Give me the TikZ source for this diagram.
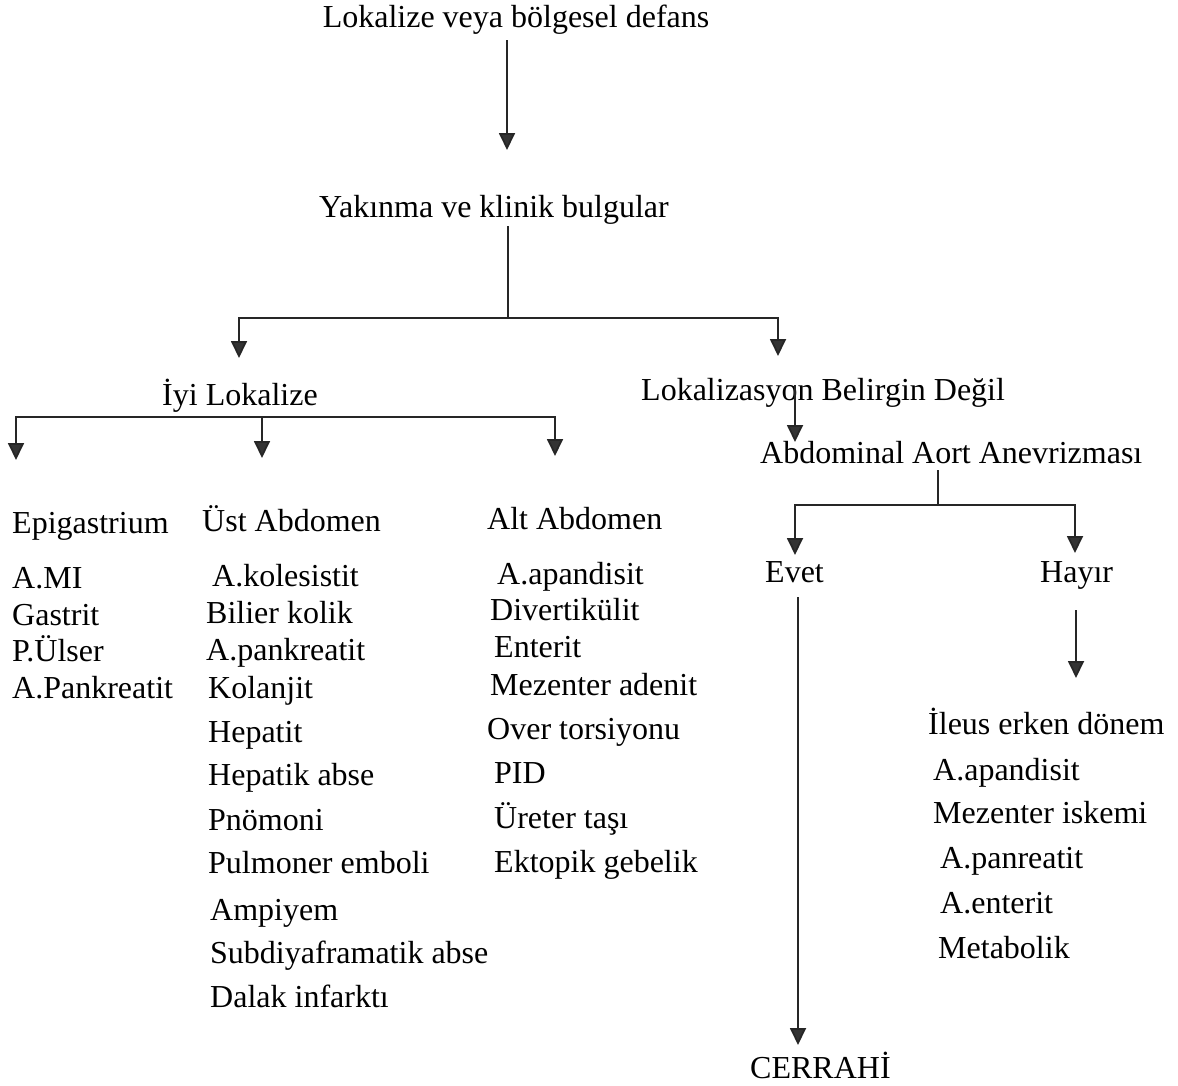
\documentclass[tikz,border=0pt]{standalone}
\usepackage{fontspec}
\setmainfont{Liberation Serif}
\usetikzlibrary{arrows.meta}
\begin{document}
\begin{tikzpicture}[x=1pt,y=-1pt,
  t/.style={font=\fontsize{32}{38}\selectfont, inner sep=0pt, anchor=base west, text=black},
  ln/.style={line width=1.8pt, draw=black!85},
  ar/.style={ln, -{Triangle[width=16pt,length=17pt,fill=black!80]}}]
\useasboundingbox[fill=white] (0,0) rectangle (1178,1085);

% main nodes
\node[t,anchor=base] (top) at (516,27) {Lokalize veya bölgesel defans};
\node[t,anchor=base] (yak) at (494,217) {Yakınma ve klinik bulgular};
\node[t] (iyi) at (162,405) {İyi Lokalize};
\node[t] (lok) at (641,400) {Lokalizasyon Belirgin Değil};
\node[t] (aaa) at (760,463) {Abdominal Aort Anevrizması};
\node[t] (evet) at (765,582) {Evet};
\node[t] (hayir) at (1040,582) {Hayır};
\node[t] (cer) at (750,1078) {CERRAHİ};

% Epigastrium column
\node[t] (epi) at (12,533) {Epigastrium};
\node[t] (e1) at (12,588) {A.MI};
\node[t] (e2) at (12,625) {Gastrit};
\node[t] (e3) at (12,661) {P.Ülser};
\node[t] (e4) at (12,698) {A.Pankreatit};

% Ust Abdomen column
\node[t] (ust) at (202,531) {Üst Abdomen};
\node[t] (u1) at (212,586) {A.kolesistit};
\node[t] (u2) at (206,623) {Bilier kolik};
\node[t] (u3) at (206,660) {A.pankreatit};
\node[t] (u4) at (208,698) {Kolanjit};
\node[t] (u5) at (208,742) {Hepatit};
\node[t] (u6) at (208,785) {Hepatik abse};
\node[t] (u7) at (208,830) {Pnömoni};
\node[t] (u8) at (208,873) {Pulmoner emboli};
\node[t] (u9) at (210,920) {Ampiyem};
\node[t] (u10) at (210,963) {Subdiyaframatik abse};
\node[t] (u11) at (210,1007) {Dalak infarktı};

% Alt Abdomen column
\node[t] (alt) at (487,529) {Alt Abdomen};
\node[t] (a1) at (497,584) {A.apandisit};
\node[t] (a2) at (490,620) {Divertikülit};
\node[t] (a3) at (494,657) {Enterit};
\node[t] (a4) at (490,695) {Mezenter adenit};
\node[t] (a5) at (487,739) {Over torsiyonu};
\node[t] (a6) at (494,783) {PID};
\node[t] (a7) at (494,828) {Üreter taşı};
\node[t] (a8) at (494,872) {Ektopik gebelik};

% Hayir column
\node[t] (h1) at (928,734) {İleus erken dönem};
\node[t] (h2) at (933,780) {A.apandisit};
\node[t] (h3) at (933,823) {Mezenter iskemi};
\node[t] (h4) at (940,868) {A.panreatit};
\node[t] (h5) at (940,913) {A.enterit};
\node[t] (h6) at (938,958) {Metabolik};

% coordinates
\coordinate (p1a) at (507,40);
\coordinate (p1b) at (507,150);
\coordinate (p2a) at (508,226);
\coordinate (p2b) at (508,318);
\coordinate (p2l) at (239,318);
\coordinate (p2r) at (778,318);
\coordinate (p2le) at (239,358);
\coordinate (p2re) at (778,356);
\coordinate (p3l) at (16,417);
\coordinate (p3m) at (262,417);
\coordinate (p3r) at (555,417);
\coordinate (p3le) at (16,460);
\coordinate (p3me) at (262,458);
\coordinate (p3re) at (555,456);
\coordinate (p4a) at (795,385);
\coordinate (p4b) at (795,442);
\coordinate (p5a) at (938,470);
\coordinate (p5b) at (938,505);
\coordinate (p5l) at (795,505);
\coordinate (p5r) at (1075,505);
\coordinate (p5le) at (795,555);
\coordinate (p5re) at (1075,553);
\coordinate (p6a) at (798,597);
\coordinate (p6b) at (798,1045);
\coordinate (p7a) at (1076,610);
\coordinate (p7b) at (1076,678);

% connectors
\draw[ar] (p1a) -- (p1b);
\draw[ln] (p2a) -- (p2b);
\draw[ar] (p2b) -- (p2l) -- (p2le);
\draw[ar] (p2b) -- (p2r) -- (p2re);
\draw[ar] (p3m) -- (p3l) -- (p3le);
\draw[ar] (p3m) -- (p3r) -- (p3re);
\draw[ar] (p3m) -- (p3me);
\draw[ar] (p4a) -- (p4b);
\draw[ln] (p5a) -- (p5b);
\draw[ar] (p5b) -- (p5l) -- (p5le);
\draw[ar] (p5b) -- (p5r) -- (p5re);
\draw[ar] (p6a) -- (p6b);
\draw[ar] (p7a) -- (p7b);
\end{tikzpicture}
\end{document}
